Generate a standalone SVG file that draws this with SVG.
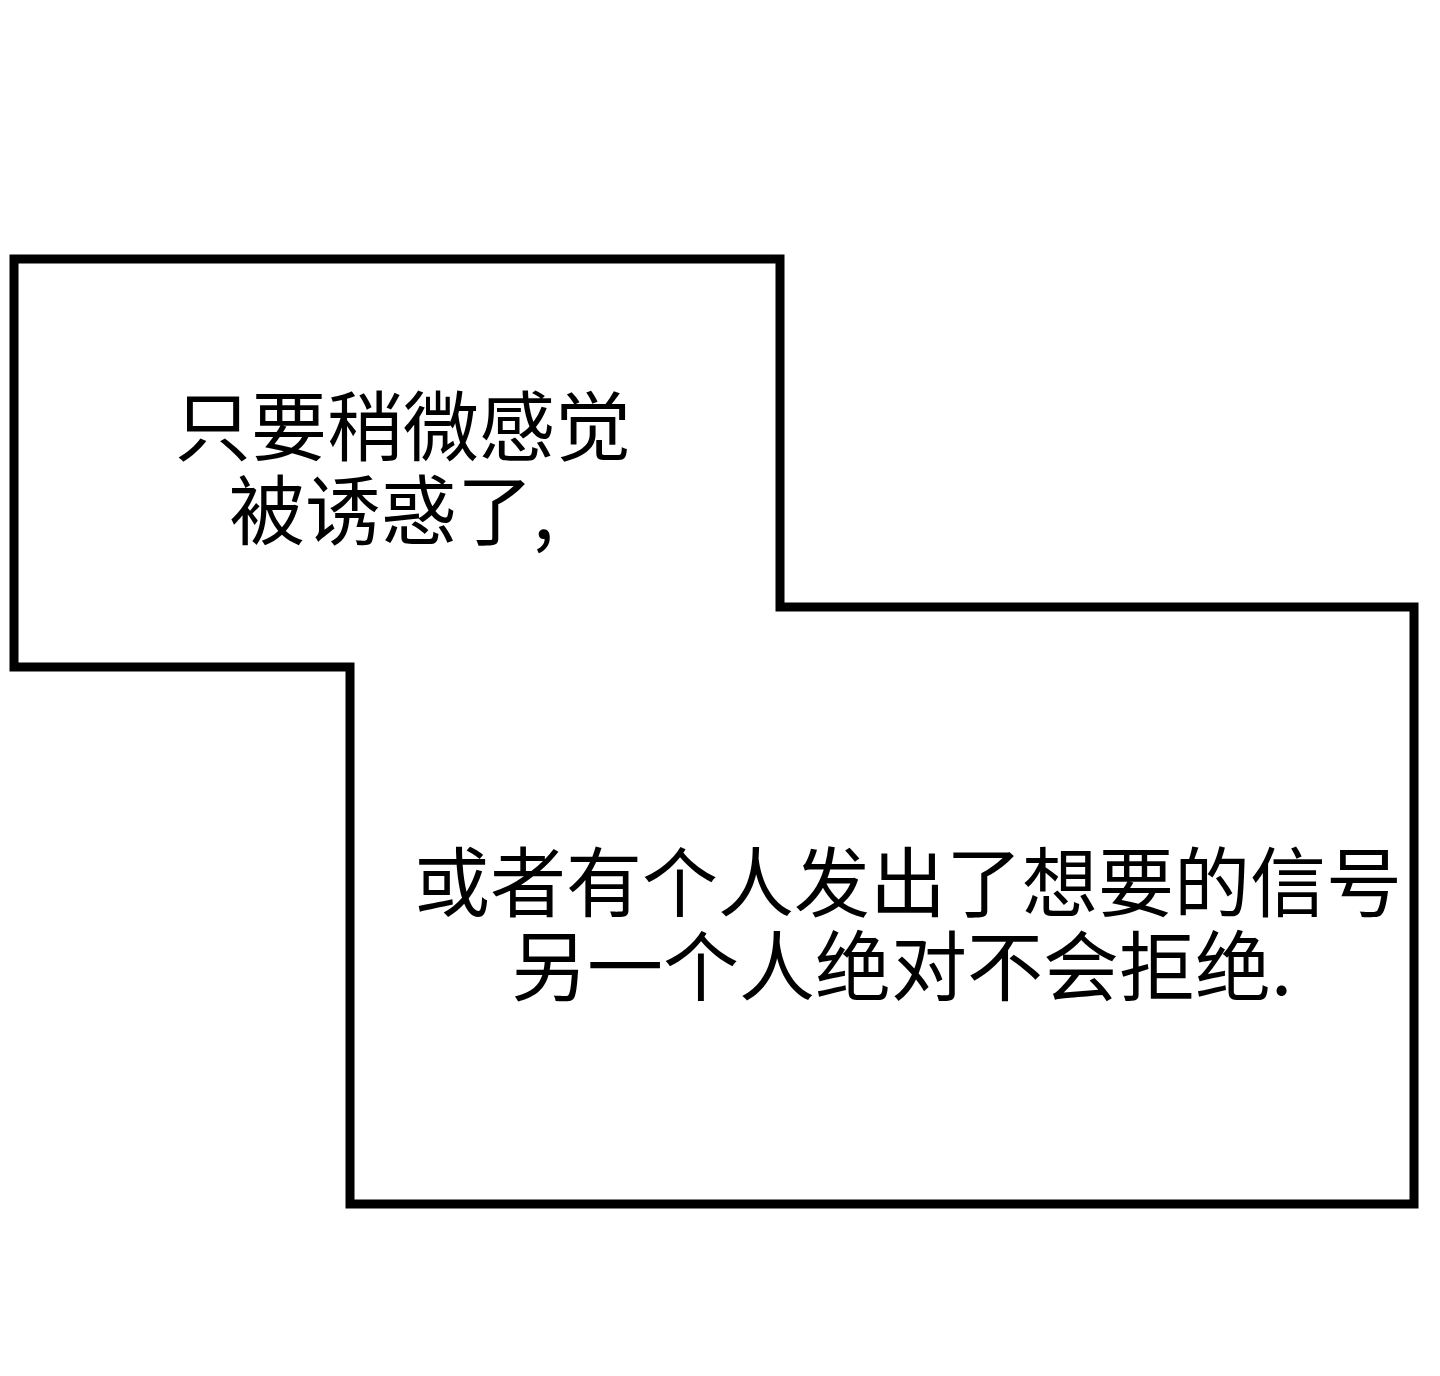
<svg xmlns="http://www.w3.org/2000/svg" width="1440" height="1376" viewBox="0 0 1440 1376">
<style>
.t{font-family:"Noto Sans CJK SC","Noto Sans",sans-serif;font-size:76px;fill:#000}
</style>
<rect width="1440" height="1376" fill="#fff"/>
<path d="M14 259 H780 V607 H1414 V1204 H350 V667 H14 Z" fill="#fff" stroke="#000" stroke-width="9" stroke-linejoin="miter"/>
<text class="t" x="175" y="455">只要稍微感觉</text>
<text class="t" x="229" y="539">被诱惑了,</text>
<text class="t" x="414" y="911">或者有个人发出了想要的信号</text>
<text class="t" x="511" y="995">另一个人绝对不会拒绝.</text>
</svg>
